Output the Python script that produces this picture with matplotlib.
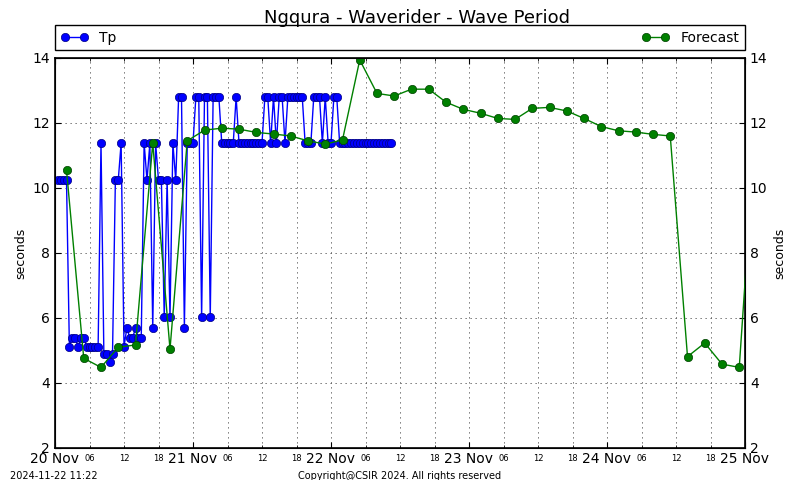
import numpy as np
import pandas as pd
from matplotlib import pyplot as plt
import matplotlib.dates as mdates

# measured Tp, half-hourly from 20 Nov 00:30
tp_start = '2024-11-20 00:30'
tp = [10.24, 10.24, 10.24, 10.24, 5.12, 5.39, 5.39, 5.12, 5.39, 5.39,
      5.12, 5.12, 5.12, 5.12, 5.12, 11.38, 4.88, 4.88, 4.65, 4.88,
      10.24, 10.24, 11.38, 5.12, 5.69, 5.39, 5.39, 5.69, 5.39, 5.39,
      11.38, 10.24, 11.38, 5.69, 11.38, 10.24, 10.24, 6.02, 10.24, 6.02,
      11.38, 10.24, 12.8, 12.8, 5.69, 11.38, 11.38, 11.38, 12.8, 12.8,
      6.02, 12.8, 12.8, 6.02, 12.8, 12.8, 12.8, 11.38, 11.38, 11.38,
      11.38, 11.38, 12.8, 11.38, 11.38, 11.38, 11.38, 11.38, 11.38, 11.38,
      11.38, 11.38, 12.8, 12.8, 11.38, 12.8, 11.38, 12.8, 12.8, 11.38,
      12.8, 12.8, 12.8, 12.8, 12.8, 12.8, 11.38, 11.38, 11.38, 12.8,
      12.8, 12.8, 11.38, 12.8, 11.38, 11.38, 12.8, 12.8, 11.38, 11.38,
      11.38, 11.38, 11.38, 11.38, 11.38, 11.38, 11.38, 11.38, 11.38, 11.38,
      11.38, 11.38, 11.38, 11.38, 11.38, 11.38, 11.38]

# forecast, 3-hourly from 20 Nov 02:00
fc_start = '2024-11-20 02:00'
fc = [10.55, 4.76, 4.48, 5.10, 5.17, 11.38, 5.04, 11.45, 11.78, 11.84,
      11.81, 11.71, 11.66, 11.60, 11.45, 11.35, 11.48, 13.94, 12.91, 12.83,
      13.04, 13.04, 12.64, 12.42, 12.30, 12.14, 12.11, 12.45, 12.48, 12.37,
      12.14, 11.89, 11.76, 11.72, 11.65, 11.60, 4.81, 5.23, 4.58, 4.48,
      12.3]

tp_t = pd.date_range(tp_start, periods=len(tp), freq='30min')
fc_t = pd.date_range(fc_start, periods=len(fc), freq='3h')

fig = plt.figure(figsize=(8, 4.8), dpi=100)
ax = fig.add_axes([0.06875, 0.0667, 0.8625, 0.8125])
ax2 = ax.twinx()

ax.plot(tp_t, tp, '-o', c='b', lw=1, ms=6, mec='#000080', mew=0.5, label='Tp')
ax2.plot(fc_t, fc, '-o', c='g', lw=1, ms=6, mec='#004000', mew=0.5,
         label='Forecast')

for a in (ax, ax2):
    a.set_ylim(2, 14)
    a.set_yticks(np.arange(2, 15, 2))
    a.set_ylabel('seconds', fontsize=9)
    a.tick_params(direction='in', labelsize=10, length=4)
ax.set_xlim(pd.Timestamp('2024-11-20'), pd.Timestamp('2024-11-25'))
ax.xaxis.set_major_locator(mdates.DayLocator())
ax.xaxis.set_major_formatter(mdates.DateFormatter('%d %b'))
ax.xaxis.set_minor_locator(mdates.HourLocator(byhour=[6, 12, 18]))
ax.xaxis.set_minor_formatter(mdates.DateFormatter('%H'))
ax.tick_params(axis='x', which='major', labelsize=10, pad=3, top=True)
ax.tick_params(axis='x', which='minor', labelsize=6, pad=4, top=True,
               direction='in', length=2)
grid_ls = (0, (1.5, 4.5))
ax.grid(True, which='both', axis='x', ls=grid_ls, c='#444444', lw=0.6)
ax.grid(True, which='major', axis='y', ls=grid_ls, c='#444444', lw=0.6)
for s in ax.spines.values():
    s.set_linewidth(1.2)

box = (0, 1.02, 1, 0.0615)
leg = ax.legend(bbox_to_anchor=box, loc='lower left', mode='expand',
                borderaxespad=0, numpoints=2, fontsize=10, fancybox=False,
                edgecolor='k', framealpha=1)
leg.get_frame().set_linewidth(1)
ax2.legend(bbox_to_anchor=box, loc='lower right', borderaxespad=0,
           numpoints=2, fontsize=10, frameon=False)

fig.text(0.521, 0.962, 'Ngqura - Waverider - Wave Period', ha='center',
         va='center', fontsize=13)
fig.text(0.0125, 0.002, '2024-11-22 11:22', fontsize=7)
fig.text(0.5, 0.002, 'Copyright@CSIR 2024. All rights reserved', ha='center',
         fontsize=7)

fig.savefig('out.png', dpi=100)
